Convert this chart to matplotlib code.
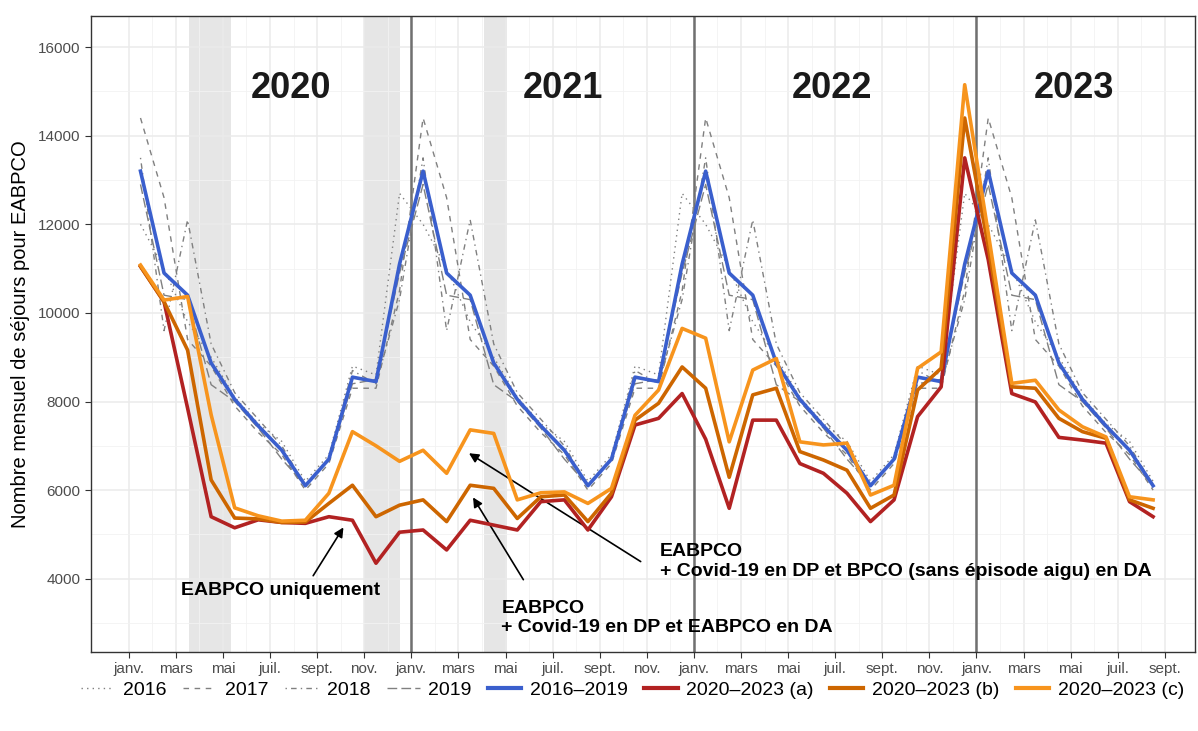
import numpy as np
import matplotlib
matplotlib.use("Agg")
import matplotlib.pyplot as plt
from matplotlib.lines import Line2D

plt.rcParams['font.family'] = ['Liberation Sans', 'DejaVu Sans']

# mois de janv. 2020 a aout 2023
n_months = 44
month_labels = ['janv.', 'mars', 'mai', 'juil.', 'sept.', 'nov.']
year_labels = ['2020', '2021', '2022', '2023']

# annees de reference (valeurs mensuelles janv.-dec.)
ref_2016 = [12000, 11000, 9800, 9000, 8100, 7500, 7100, 6200, 6800, 8800, 8600, 12700]
ref_2017 = [14400, 12600, 9400, 8800, 7900, 7300, 6800, 6000, 6600, 8300, 8300, 10500]
ref_2018 = [13500, 9600, 12100, 9300, 8200, 7600, 7000, 6100, 6700, 8700, 8400, 10300]
ref_2019 = [12900, 10400, 10300, 8380, 8000, 7400, 6700, 6100, 6700, 8400, 8500, 10900]
ref_mean = [13200, 10900, 10400, 8870, 8050, 7450, 6900, 6100, 6700, 8550, 8450, 11100]

# 2020-2023 (a) EABPCO uniquement
serie_a = [11050, 10250, 7850, 5400, 5150, 5330, 5270, 5250, 5400, 5320, 4350, 5050,
           5100, 4650, 5320, 5210, 5100, 5740, 5780, 5100, 5850, 7470, 7620, 8180,
           7150, 5590, 7580, 7580, 6600, 6380, 5930, 5290, 5780, 7660, 8330, 13500,
           11200, 8180, 7990, 7190, 7130, 7060, 5740, 5400]
# 2020-2023 (b) + Covid-19 en DP et EABPCO en DA
serie_b = [11050, 10250, 9160, 6230, 5370, 5350, 5270, 5280, 5700, 6110, 5400, 5660,
           5780, 5290, 6110, 6040, 5360, 5850, 5890, 5290, 5930, 7580, 7960, 8780,
           8300, 6290, 8150, 8300, 6870, 6680, 6450, 5590, 5890, 8260, 8750, 14400,
           11500, 8330, 8300, 7620, 7320, 7170, 5780, 5590]
# 2020-2023 (c) + Covid-19 en DP et BPCO (sans episode aigu) en DA
serie_c = [11080, 10290, 10370, 7700, 5600, 5420, 5300, 5320, 5930, 7320, 7000, 6650,
           6900, 6380, 7360, 7280, 5780, 5940, 5960, 5700, 6040, 7690, 8260, 9650,
           9430, 7090, 8710, 8970, 7090, 7020, 7060, 5890, 6110, 8750, 9120, 15150,
           11800, 8410, 8480, 7810, 7430, 7200, 5850, 5780]

# periodes de confinement (en mois depuis le 1er janv. 2020)
lockdowns = [(2.55, 4.33), (10.0, 11.5), (15.1, 16.05)]

x = np.arange(n_months) + 0.5


def repeat_year(vals):
    return np.tile(vals, 4)[:n_months]


fig = plt.figure(figsize=(11.98, 7.31), dpi=100)
ax = fig.add_axes([0.076, 0.108, 0.9215, 0.870])

for a, b in lockdowns:
    ax.axvspan(a, b, color='#e6e6e6', lw=0, zorder=0)

for yr in (12, 24, 36):
    ax.axvline(yr, color='#707070', lw=1.8, zorder=1)

grey = '#808080'
ax.plot(x, repeat_year(ref_2016), color=grey, lw=1.0, dashes=(1, 3), zorder=2)
ax.plot(x, repeat_year(ref_2017), color=grey, lw=1.0, dashes=(4, 4), zorder=2)
ax.plot(x, repeat_year(ref_2018), color=grey, lw=1.0, dashes=(1, 3, 4, 3), zorder=2)
ax.plot(x, repeat_year(ref_2019), color=grey, lw=1.0, dashes=(7, 3), zorder=2)
ax.plot(x, repeat_year(ref_mean), color='#3a5fcd', lw=2.6, zorder=3)
ax.plot(x, serie_a, color='#b22222', lw=2.6, zorder=4)
ax.plot(x, serie_b, color='#cd6600', lw=2.6, zorder=5)
ax.plot(x, serie_c, color='#f7941d', lw=2.6, zorder=6)

ax.set_xlim(-1.6, 45.28)
ax.set_ylim(2345, 16700)
ax.set_xticks(np.arange(0, 45, 2))
ax.set_xticklabels([month_labels[i % 6] for i in range(23)])
ax.set_xticks(np.arange(1, 45, 2), minor=True)
ax.set_yticks(np.arange(4000, 16001, 2000))
ax.set_yticks(np.arange(3000, 16001, 2000), minor=True)
ax.grid(which='major', color='#ebebeb', lw=1.1, zorder=0)
ax.grid(which='minor', color='#f2f2f2', lw=0.6, zorder=0)
ax.set_axisbelow(True)
ax.tick_params(which='major', length=4, color='#333333', labelsize=11, labelcolor='#4d4d4d')
ax.tick_params(which='minor', length=0)
for s in ax.spines.values():
    s.set_color('#333333')
    s.set_linewidth(1.0)
ax.set_ylabel('Nombre mensuel de séjours pour EABPCO', fontsize=14.5, labelpad=6)

for lab, xm in zip(year_labels, [6.91, 18.45, 29.86, 40.15]):
    ax.text(xm, 15070, lab, fontsize=26, fontweight='bold', color='#1a1a1a',
            ha='center', va='center')

arrow = dict(arrowstyle='-|>', color='black', lw=1.2, mutation_scale=14)
ax.annotate('', xy=(9.18, 5211), xytext=(7.77, 4015), arrowprops=arrow)
ax.annotate('', xy=(14.56, 5889), xytext=(16.82, 3925), arrowprops=arrow)
ax.annotate('', xy=(14.35, 6866), xytext=(21.84, 4354), arrowprops=arrow)
ax.text(2.21, 3745, 'EABPCO uniquement', fontsize=14, fontweight='bold',
        ha='left', va='center')
ax.text(15.83, 3113, 'EABPCO\n+ Covid-19 en DP et EABPCO en DA', fontsize=14,
        fontweight='bold', ha='left', va='center')
ax.text(22.56, 4387, 'EABPCO\n+ Covid-19 en DP et BPCO (sans épisode aigu) en DA',
        fontsize=14, fontweight='bold', ha='left', va='center')

handles = [
    Line2D([], [], color=grey, lw=1.0, dashes=(1, 3)),
    Line2D([], [], color=grey, lw=1.0, dashes=(4, 4)),
    Line2D([], [], color=grey, lw=1.0, dashes=(1, 3, 4, 3)),
    Line2D([], [], color=grey, lw=1.0, dashes=(7, 3)),
    Line2D([], [], color='#3a5fcd', lw=3),
    Line2D([], [], color='#b22222', lw=3),
    Line2D([], [], color='#cd6600', lw=3),
    Line2D([], [], color='#f7941d', lw=3),
]
labels = ['2016', '2017', '2018', '2019', '2016–2019',
          '2020–2023 (a)', '2020–2023 (b)', '2020–2023 (c)']
fig.legend(handles, labels, loc='center', bbox_to_anchor=(0.528, 0.056), ncol=8,
           frameon=False, fontsize=14, handlelength=1.7, columnspacing=0.85,
           handletextpad=0.45)

fig.savefig('out.png', dpi=100)
